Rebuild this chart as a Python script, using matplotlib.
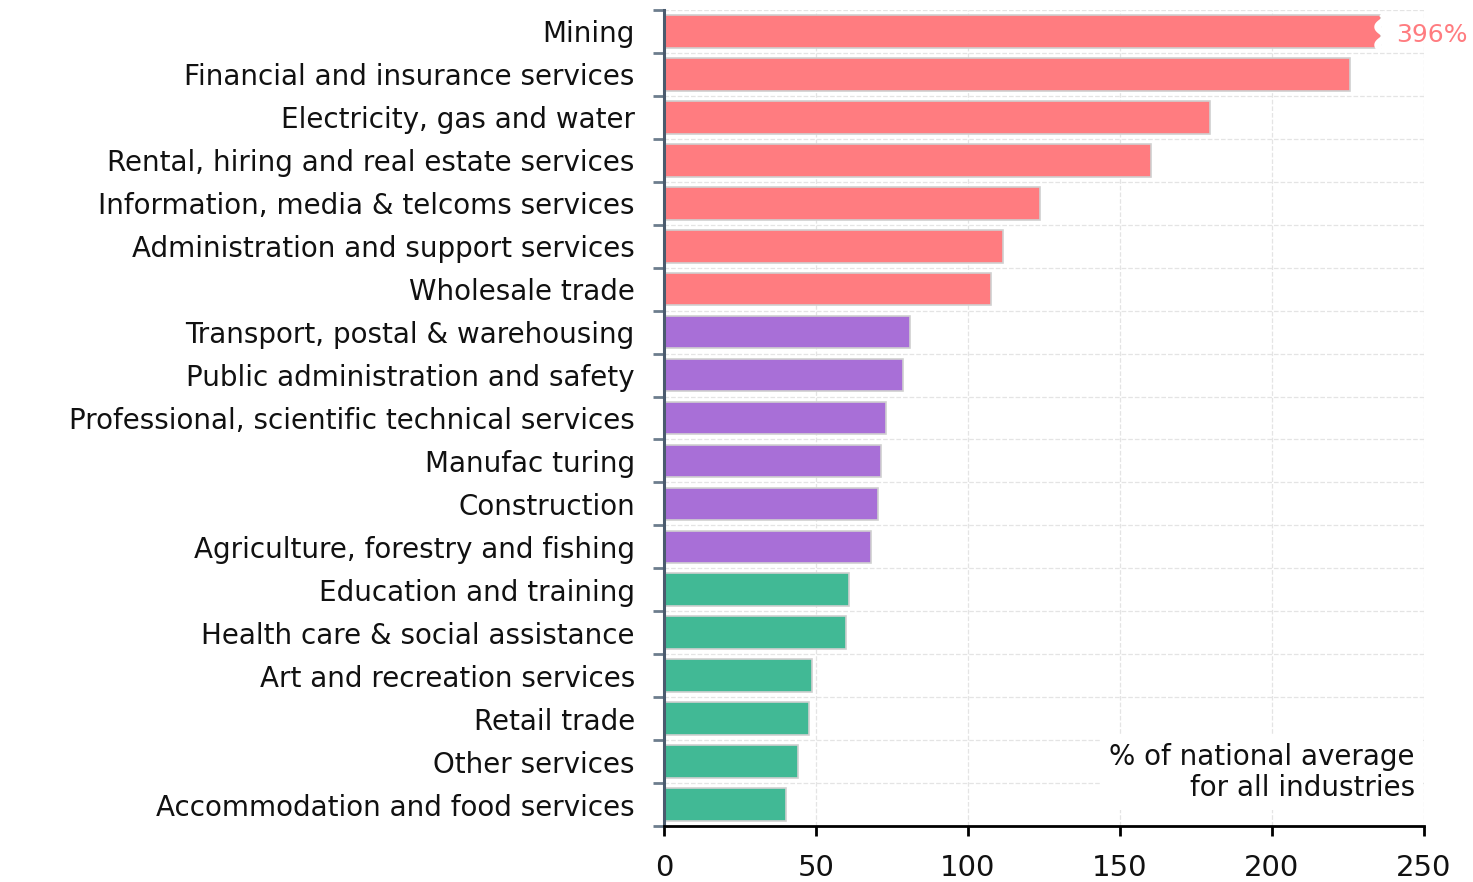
import matplotlib.pyplot as plt
import numpy as np

# data (top to bottom)
industries = ['Mining', 'Financial and insurance services', 'Electricity, gas and water',
              'Rental, hiring and real estate services', 'Information, media & telcoms services',
              'Administration and support services', 'Wholesale trade',
              'Transport, postal & warehousing', 'Public administration and safety',
              'Professional, scientific technical services', 'Manufac turing', 'Construction',
              'Agriculture, forestry and fishing', 'Education and training',
              'Health care & social assistance', 'Art and recreation services', 'Retail trade',
              'Other services', 'Accommodation and food services']
values = [396, 225.7, 179.6, 160.2, 123.7, 111.5, 107.6, 80.9, 78.6, 73.0, 71.4, 70.4,
          68.1, 60.9, 59.9, 48.7, 47.7, 44.1, 40.1]
groups = ['high'] * 7 + ['mid'] * 6 + ['low'] * 6
group_colors = {'high': '#FF7C80', 'mid': '#A86FD7', 'low': '#41B995'}
x_ticks = [0, 50, 100, 150, 200, 250]
cap = 236  # bars longer than this are drawn broken

plt.rcParams['font.family'] = ['DejaVu Sans']

fig = plt.figure(figsize=(14.73, 8.82), dpi=100)
ax = fig.add_axes([0.4508, 0.0635, 0.5159, 0.9252])

n = len(industries)
y = np.arange(n)
shown = [min(v, cap) for v in values]
colors = [group_colors[g] for g in groups]
ax.barh(y, shown, height=0.76, color=colors, edgecolor='#d0d0d0', linewidth=1.2, zorder=2)

# break marker + real value on the long bar
for i, v in enumerate(values):
    if v > cap:
        t = np.linspace(-0.42, 0.42, 60)
        ax.plot(cap + 1.2 * np.sin(t * np.pi / 0.21), i + t, color='white', lw=5,
                zorder=3, solid_capstyle='butt', clip_on=False)
        ax.text(cap + 5, i + 0.08, f'{v:.0f}%', color=group_colors[groups[i]], fontsize=18,
                va='center', ha='left', zorder=4, clip_on=False)

ax.set_xlim(0, 250)
ax.set_ylim(n - 0.5, -0.5)
ax.set_xticks(x_ticks)
ax.set_xticklabels([str(t) for t in x_ticks])
ax.set_yticks(y)
ax.set_yticklabels(industries)
ax.set_yticks(np.arange(-0.5, n, 1), minor=True)

ax.tick_params(axis='y', which='major', length=0, pad=21, labelsize=20, labelcolor='#111111')
ax.tick_params(axis='y', which='minor', length=8, width=2, color='#6d7d8d', direction='out')
ax.tick_params(axis='x', length=7, width=2, color='black', pad=13, labelsize=21,
               labelcolor='#111111')

ax.grid(axis='x', which='major', color='#e4e4e4', linestyle='--', linewidth=0.9, zorder=0)
ax.grid(axis='y', which='minor', color='#e4e4e4', linestyle='--', linewidth=0.9, zorder=0)
ax.set_axisbelow(True)

for s in ['top', 'right']:
    ax.spines[s].set_visible(False)
ax.spines['left'].set_color('#4b5b6e')
ax.spines['left'].set_linewidth(2.2)
ax.spines['bottom'].set_color('black')
ax.spines['bottom'].set_linewidth(2)

ax.text(247, 17.25, '% of national average\nfor all industries', ha='right', va='center',
        fontsize=20, color='#111111', linespacing=1.15,
        bbox=dict(facecolor='white', edgecolor='none', pad=6), zorder=5)

fig.savefig('out.png', dpi=100)
